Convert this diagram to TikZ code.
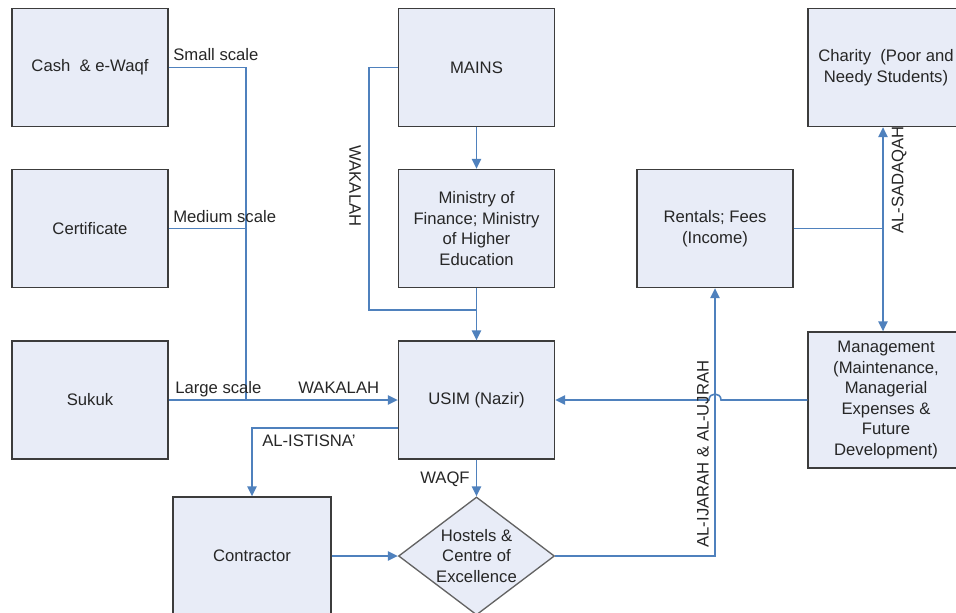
\documentclass[tikz,border=0pt]{standalone}
\usepackage{fontspec}
\setmainfont{Liberation Sans}
\usetikzlibrary{arrows.meta,shapes.geometric,calc}
\definecolor{boxfill}{RGB}{232,236,247}
\definecolor{boxline}{RGB}{60,60,60}
\definecolor{conn}{RGB}{79,129,189}
\begin{document}
\begin{tikzpicture}[x=0.75pt,y=-0.75pt,
  txt/.style={font=\fontsize{12.5}{15.4}\selectfont,text=black!85},
  box/.style={txt,draw=boxline,line width=1pt,fill=boxfill,minimum width=117pt,minimum height=88.5pt,inner sep=2pt,align=center},
  dia/.style={diamond,draw=boxline!80,line width=1pt,fill=boxfill,minimum width=117pt,minimum height=88.5pt,inner sep=0pt},
  conline/.style={draw=conn,line width=1.2pt},
  conarrow/.style={conline,-{Triangle[length=7.5pt,width=7pt]}},
  lab/.style={txt,inner sep=0pt}
]
\useasboundingbox (0,0) rectangle (956,613);
\clip (0,0) rectangle (956,613);

% boxes
\node[box] (cash) at (90,67.5) {Cash \ \& e-Waqf};
\node[box] (cert) at (90,228.5) {Certificate};
\node[box] (sukuk) at (90,400) {Sukuk};
\node[box] (mains) at (476.5,67.5) {MAINS};
\node[box] (min) at (476.5,228.5) {Ministry of\\Finance; Ministry\\of Higher\\Education};
\node[box] (usim) at (476.5,400) {USIM (Nazir)};
\node[box] (rent) at (715,228.5) {Rentals; Fees\\(Income)};
\node[box] (charity) at (886,67.5) {Charity \ (Poor and\\Needy Students)};
\node[box,minimum height=102pt] (mgmt) at (886,400) {Management\\(Maintenance,\\Managerial\\Expenses \&\\Future\\Development)};
\node[box,minimum width=118.5pt] (contr) at (252,556) {Contractor};
\node[dia] (hostel) at (476.5,556) {};
\node[txt,align=center] (hosteltext) at (hostel.center) {Hostels \&\\Centre of\\Excellence};

% coordinates
\coordinate (bus) at (246,400);
\coordinate (wk) at (476.5,310);
\coordinate (sp) at (883,228.5);
\coordinate (cross) at (rent.south |- mgmt.west);

% left side scales
\draw[conline] (cash.east) -| (bus);
\draw[conline] (cert.east) -- (cert.east -| bus);
\draw[conarrow] (sukuk.east) -- (usim.west);

% MAINS / Ministry
\draw[conarrow] (mains.south) -- (min.north);
\draw[conline] (mains.west) -- ++(-29,0) |- (wk);
\draw[conarrow] (min.south) -- (usim.north);

% USIM outputs
\draw[conarrow] ($(usim.west)+(0,28)$) -| (contr.north);
\draw[conarrow] (usim.south) -- (hostel.north);
\draw[conarrow] (contr.east) -- (hostel.west);
\draw[conarrow] (hostel.east) -| (rent.south);

% management back to USIM with hop
\draw[conarrow] (mgmt.west) -- ($(cross)+(6,0)$) .. controls ($(cross)+(6,-8)$) and ($(cross)+(-6,-8)$) .. ($(cross)+(-6,0)$) -- (usim.east);

% rentals split
\draw[conline] (rent.east) -- (sp);
\draw[conarrow] (sp) -- (sp |- charity.south);
\draw[conarrow] (sp) -- (sp |- mgmt.north);

% labels
\node[lab,anchor=base west] (lsmall) at (173,61) {Small scale};
\node[lab,anchor=base west] (lmed) at (173,222) {Medium scale};
\node[lab,anchor=base west] (llarge) at (175,393) {Large scale};
\node[lab,anchor=base west] (lwak) at (298,393) {WAKALAH};
\node[lab,anchor=base west] (listis) at (262,446) {AL-ISTISNA'};
\node[lab,anchor=base west] (lwaqf) at (420,483) {WAQF};
\node[lab,rotate=-90] (lwakv) at (355,186) {WAKALAH};
\node[lab,rotate=90] (lsad) at (899,180) {AL-SADAQAH};
\node[lab,rotate=90] (lijar) at (703,454) {AL-IJARAH \& AL-UJRAH};
\end{tikzpicture}
\end{document}
